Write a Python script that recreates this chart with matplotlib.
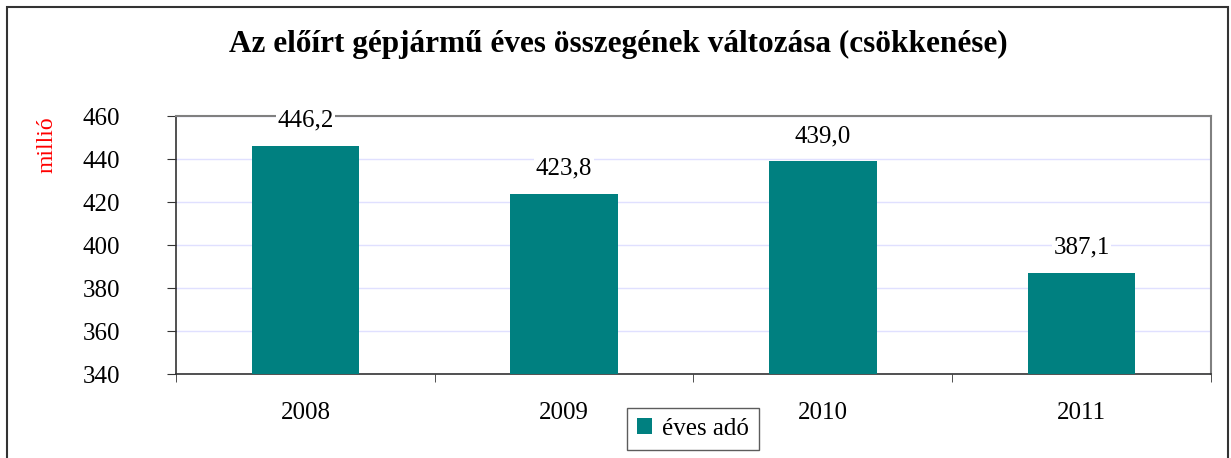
import matplotlib.pyplot as plt
import matplotlib.patches as mpatches
import numpy as np

plt.rcParams['font.family'] = ['Liberation Serif', 'DejaVu Serif']

# adatok
evek = ['2008', '2009', '2010', '2011']
ertekek = [446.2, 423.8, 439.0, 387.1]
cimkek = ['446,2', '423,8', '439,0', '387,1']

szin = '#008080'

fig = plt.figure(figsize=(12.31, 4.58), dpi=100)
ax = fig.add_axes([0.143, 0.1834, 0.8407, 0.5633])

x = np.arange(len(evek))
ax.bar(x, [v - 340 for v in ertekek], bottom=340, width=0.415, color=szin,
       label='éves adó', zorder=3)

ax.set_xlim(-0.5, 3.5)
ax.set_ylim(340, 460)
ax.set_yticks(range(340, 461, 20))
ax.set_yticklabels([str(t) for t in range(340, 461, 20)], fontsize=18)
ax.set_xticks(x)
ax.set_xticklabels(evek, fontsize=18)
ax.tick_params(axis='x', length=0, pad=20)
ax.set_xticks([-0.5, 0.5, 1.5, 2.5, 3.5], minor=True)
ax.tick_params(axis='x', which='minor', length=6, color='#333333')
ax.tick_params(axis='y', length=6.5, color='#333333', pad=34)

ax.grid(axis='y', color='#e0e0ff', linewidth=1, zorder=0)
for s in ['top', 'right']:
    ax.spines[s].set_color('#808080')
    ax.spines[s].set_linewidth(1.5)
for s in ['left', 'bottom']:
    ax.spines[s].set_color('#333333')
    ax.spines[s].set_linewidth(1.2)

for xi, v, c in zip(x, ertekek, cimkek):
    ax.annotate(c, (xi, v), xytext=(0, 18), textcoords='offset points',
                ha='center', va='center', fontsize=18,
                bbox=dict(facecolor='white', edgecolor='none', pad=1), zorder=5)

fig.text(0.502, 0.902, 'Az előírt gépjármű éves összegének változása (csökkenése)',
         ha='center', va='center', fontsize=22.5, fontweight='bold')
fig.text(0.038, 0.685, 'millió', rotation=90, color='red', fontsize=17,
         ha='center', va='center')

leg = ax.legend(loc='center', bbox_to_anchor=(0.563, 0.063),
                bbox_transform=fig.transFigure, fontsize=18, frameon=True,
                fancybox=False, handlelength=0.6, handleheight=0.6,
                handletextpad=0.4, borderpad=0.4)
leg.get_frame().set_edgecolor('#333333')
leg.get_frame().set_linewidth(1)

# külső keret
keret = mpatches.Rectangle((7 / 1231, -0.1), (1228 - 7) / 1231, 1 - 7 / 458 + 0.1,
                           transform=fig.transFigure, fill=False,
                           edgecolor='#333333', linewidth=1.5, clip_on=False)
fig.patches.append(keret)

fig.savefig('out.png', dpi=100)
